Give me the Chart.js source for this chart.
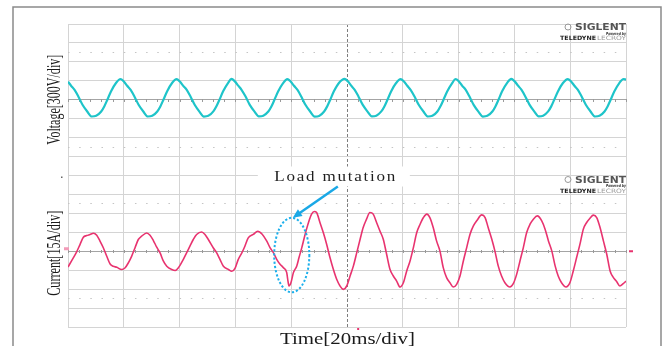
<!DOCTYPE html>
<html>
<head>
<meta charset="utf-8">
<title>Voltage and current during load mutation</title>
<script src="https://cdn.jsdelivr.net/npm/chart.js"></script>
<style>
  html, body { margin: 0; padding: 0; background: #fff; }
  #wrap { width: 663px; height: 346px; }
</style>
</head>
<body>
<div id="wrap"><canvas id="scope" width="663" height="346"></canvas></div>
<script>
// time base 20 ms/div, 10 divisions
const timeTicks = [0, 20, 40, 60, 80, 100, 120, 140, 160, 180, 200];
// 300 V/div and 15 A/div, 8 divisions each
const voltageGrid = [-1200, -900, -600, -300, 0, 300, 600, 900, 1200];
const currentGrid = [-60, -45, -30, -15, 0, 15, 30, 45, 60];
const voltageDotRows = [-750, 750];
const currentDotRows = [-37.5, 37.5];

// voltage trace (ms, V)
const voltageTime = [
  0, 1.1, 2.3, 3.7, 5.2, 6.9, 8.5, 10.1, 11.9, 13.0, 14.1, 15.4, 17.2,
  18.8, 20.0, 21.2, 22.4, 23.8, 25.3, 27.0, 28.6, 30.2, 32.0, 33.1, 34.2, 35.5, 37.3,
  38.9, 40.1, 41.3, 42.5, 43.9, 45.4, 47.1, 48.7, 50.3, 52.1, 53.2, 54.3, 55.6, 57.4,
  58.6, 59.8, 61.0, 62.2, 63.6, 65.1, 66.8, 68.4, 70.0, 71.8, 72.9, 74.0, 75.3, 77.1,
  78.6, 79.8, 81.0, 82.2, 83.6, 85.1, 86.8, 88.4, 90.0, 91.8, 92.9, 94.0, 95.3, 97.1,
  99.1, 100.3, 101.5, 102.7, 104.1, 105.6, 107.3, 108.9, 110.5, 112.3, 113.4, 114.5, 115.8, 117.6,
  119.2, 120.4, 121.6, 122.8, 124.2, 125.7, 127.4, 129.0, 130.6, 132.4, 133.5, 134.6, 135.9, 137.7,
  138.9, 140.1, 141.3, 142.5, 143.9, 145.4, 147.1, 148.7, 150.3, 152.1, 153.2, 154.3, 155.6, 157.4,
  158.9, 160.1, 161.3, 162.5, 163.9, 165.4, 167.1, 168.7, 170.3, 172.1, 173.2, 174.3, 175.6, 177.4,
  179.1, 180.3, 181.5, 182.7, 184.1, 185.6, 187.3, 188.9, 190.5, 192.3, 193.4, 194.5, 195.8, 197.6,
  199.1, 200
];
const voltageValue = [
  287, 222, 159, 52, -79, -186, -265, -254, -186, -106, 0, 132, 265,
  329, 290, 222, 159, 52, -79, -186, -265, -254, -186, -106, 0, 132, 265,
  326, 288, 220, 160, 50, -80, -188, -266, -255, -184, -104, 2, 134, 268,
  330, 291, 224, 158, 54, -77, -185, -263, -252, -187, -107, 0, 131, 264,
  328, 289, 221, 159, 51, -80, -187, -266, -256, -186, -105, 1, 133, 266,
  331, 292, 223, 161, 53, -78, -184, -264, -253, -185, -106, 0, 132, 265,
  327, 289, 222, 158, 52, -79, -186, -265, -254, -186, -104, 1, 130, 263,
  329, 290, 220, 160, 50, -81, -188, -266, -255, -187, -106, 0, 133, 267,
  330, 291, 223, 159, 53, -78, -185, -264, -253, -185, -105, 2, 132, 265,
  328, 290, 222, 160, 51, -79, -186, -265, -254, -186, -106, 0, 131, 264,
  329, 318
];

// current trace (ms, A) - load steps up around 79 ms
const currentTime = [
  0, 1.9, 3.1, 4.3, 5.5, 6.7, 7.9, 9.1, 10.3, 11.5, 12.7, 13.9, 15.1, 16.2, 17.5, 19.2,
  20.4, 21.6, 22.8, 24.0, 25.2, 26.4, 28.2, 29.4, 30.6, 31.8, 33.0, 34.2, 35.4, 37.2, 38.4,
  39.5, 41.3, 42.5, 43.7, 44.9, 46.1, 47.9, 49.1, 50.3, 52.1, 53.3, 54.5, 55.7, 57.5, 58.7,
  59.9, 61.0, 62.3, 63.4, 64.6, 66.4, 68.0, 69.6, 71.2, 72.4, 73.6, 74.8, 76.0, 77.2, 78.4,
  78.7, 79.2, 79.9, 80.8, 82.0, 82.8, 83.8, 84.7, 85.5, 86.4, 87.3, 88.3, 89.1, 90.3, 91.5,
  92.7, 93.9, 95.1, 96.3, 97.5, 98.7, 99.9, 101.1, 102.3, 103.5, 104.7, 105.8, 107.0, 108.2, 109.4,
  110.6, 111.8, 113.0, 114.2, 115.4, 116.6, 117.8, 119.0, 120.2, 121.4, 122.6, 123.8, 125.0, 126.2, 127.4,
  128.6, 129.7, 130.9, 132.1, 133.3, 134.5, 135.7, 136.9, 138.1, 139.3, 140.5, 141.7, 142.9, 144.1, 145.3,
  146.5, 148.3, 149.5, 150.6, 151.9, 153.0, 154.2, 155.4, 156.6, 158.4, 159.6, 160.8, 162.0, 163.2, 164.4,
  165.6, 166.8, 168.2, 169.8, 171.0, 172.2, 173.4, 174.6, 175.7, 176.9, 178.5, 179.9, 181.1, 182.3, 183.5,
  184.7, 185.9, 187.1, 188.3, 189.5, 190.7, 191.9, 193.1, 194.3, 195.5, 196.7, 197.8, 199.0, 200
];
const currentValue = [
  -12.5, -5.3, -0.5, 5.3, 11.1, 12.4, 13.3, 14.3, 12.7, 7.9, 2.6, -4.0, -10.1, -11.9, -12.7, -14.5,
  -13.3, -9.3, -4.0, 2.6, 9.3, 11.9, 14.5, 12.7, 8.5, 3.2, -1.3, -7.9, -11.9, -14.5, -15.3,
  -13.3, -6.6, -1.3, 4.0, 9.3, 13.3, 15.3, 13.3, 9.3, 2.6, -1.3, -6.6, -11.9, -14.5, -15.9,
  -13.3, -6.6, -1.3, 4.0, 10.6, 13.3, 15.9, 13.5, 8.2, 2.9, -1.1, -6.4, -10.3, -13.0, -16.9,
  -21.4, -27.5, -24.9, -16.9, -11.6, -5.0, 2.9, 10.9, 17.5, 24.1, 29.4, 31.5, 30.7, 22.8, 14.8,
  5.6, -5.0, -14.3, -22.2, -27.5, -30.2, -27.5, -19.6, -11.6, -1.1, 9.5, 18.8, 25.4, 30.7, 29.4,
  22.8, 16.1, 9.5, -2.4, -14.3, -19.6, -23.6, -28.3, -24.9, -15.6, -7.7, 2.9, 14.8, 21.4, 26.7,
  29.4, 26.7, 18.8, 8.2, 0.3, -13.0, -20.9, -24.9, -28.3, -26.2, -19.6, -7.7, 2.9, 13.5, 20.1,
  24.1, 28.8, 26.7, 18.8, 9.5, 0.3, -11.6, -19.6, -24.9, -28.3, -25.7, -18.3, -7.7, 2.9, 14.8,
  21.4, 25.4, 28.0, 24.1, 17.5, 8.2, 0.3, -11.6, -19.6, -24.9, -28.3, -24.9, -15.6, -5.0, 5.6,
  17.5, 22.8, 26.2, 28.6, 26.7, 18.8, 8.2, -2.4, -15.6, -20.9, -24.1, -27.5, -25.7, -23.6
];

// annotation: where the load changes (ms / A)
const mutationTime = 80.2;
const mutationCenter = -3;
const mutationHalfWidth = 6.3;
const mutationHalfHeight = 29.5;
const labelTime = 96;

const SERIF = '"Liberation Serif", "Times New Roman", serif';
const GRID = '#d4d4d4';

// draw text squeezed/stretched to a given width
function fitText(ctx, text, x, y, width) {
  const w = ctx.measureText(text).width;
  ctx.save();
  ctx.translate(x, y);
  ctx.scale(width / w, 1);
  ctx.fillText(text, 0, 0);
  ctx.restore();
}

// letter-spaced text, glyphs widened by sx
function spacedText(ctx, text, cx, y, width, sx) {
  const chars = [...text];
  const widths = chars.map(c => ctx.measureText(c).width * sx);
  const natural = widths.reduce((a, b) => a + b, 0);
  const gap = (width - natural) / (chars.length - 1);
  let x = cx - width / 2;
  chars.forEach((c, i) => {
    ctx.save();
    ctx.translate(x, y);
    ctx.scale(sx, 1);
    ctx.fillText(c, 0, 0);
    ctx.restore();
    x += widths[i] + gap;
  });
}

function verticalTitle(ctx, text, baseX, cy, length, size) {
  ctx.save();
  ctx.font = size + 'px ' + SERIF;
  const w = ctx.measureText(text).width;
  ctx.translate(baseX, cy);
  ctx.rotate(-Math.PI / 2);
  ctx.scale(length / w, 1);
  ctx.textAlign = 'center';
  ctx.textBaseline = 'alphabetic';
  ctx.fillText(text, 0, 0);
  ctx.restore();
}

function drawLogo(ctx, right, top) {
  ctx.save();
  ctx.textAlign = 'left';
  ctx.textBaseline = 'alphabetic';
  ctx.fillStyle = '#555';
  ctx.font = 'bold 8px "DejaVu Sans"';
  fitText(ctx, 'SIGLENT', right - 51, top + 6, 51);
  ctx.strokeStyle = '#999';
  ctx.lineWidth = 1;
  ctx.beginPath();
  ctx.arc(right - 58, top + 3, 3, 0, Math.PI * 2);
  ctx.stroke();
  ctx.font = 'italic bold 4px "DejaVu Sans"';
  ctx.fillStyle = '#333';
  fitText(ctx, 'Powered by', right - 20, top + 10.5, 20);
  ctx.font = 'bold 6px "DejaVu Sans"';
  ctx.fillStyle = '#222';
  fitText(ctx, 'TELEDYNE', right - 66, top + 16, 36);
  ctx.fillStyle = '#999';
  ctx.font = '6px "DejaVu Sans"';
  fitText(ctx, 'LECROY', right - 29, top + 16, 29);
  ctx.restore();
}

const scopeDecor = {
  id: 'scopeDecor',
  beforeDatasetsDraw(chart) {
    const { ctx, scales } = chart;
    const x = scales.x, yV = scales.voltage, yI = scales.current;
    ctx.save();
    // small division marks on the zero lines
    ctx.fillStyle = '#9a9a9a';
    [yV.getPixelForValue(0), yI.getPixelForValue(0)].forEach(py => {
      for (let t = 0; t <= 200; t += 4) {
        ctx.fillRect(Math.round(x.getPixelForValue(t)), Math.round(py) - 1, 1, 3);
      }
    });
    // white patch behind the label
    const cx = x.getPixelForValue(labelTime);
    const cy = yV.bottom + 1;
    ctx.fillStyle = '#fff';
    ctx.fillRect(cx - 78, cy - 10, 152, 20);
    ctx.restore();
  },
  afterDraw(chart) {
    const { ctx, chartArea: a, scales } = chart;
    const x = scales.x, yV = scales.voltage, yI = scales.current;
    ctx.save();

    // outer frame of the figure
    ctx.strokeStyle = '#8a8a8a';
    ctx.lineWidth = 1.5;
    ctx.beginPath();
    ctx.moveTo(13, 346);
    ctx.lineTo(13, 7);
    ctx.lineTo(661, 7);
    ctx.lineTo(661, 346);
    ctx.stroke();

    // axis titles
    ctx.fillStyle = '#1a1a1a';
    verticalTitle(ctx, 'Voltage[300V/div]', a.left - 8, (yV.top + yV.bottom) / 2, 90, 19);
    verticalTitle(ctx, 'Current[15A/div]', a.left - 8, (yI.top + yI.bottom) / 2 + 2, 85, 19);
    ctx.font = '17px ' + SERIF;
    ctx.textAlign = 'left';
    ctx.textBaseline = 'alphabetic';
    fitText(ctx, 'Time[20ms/div]', (a.left + a.right) / 2 - 67, a.bottom + 17, 135);

    // label
    const lx = x.getPixelForValue(labelTime);
    ctx.font = '14px ' + SERIF;
    ctx.fillStyle = '#1e1e1e';
    spacedText(ctx, 'Load mutation', lx - 1, yV.bottom + 5.5, 121, 1.22);

    // dotted ellipse around the step
    const ex = x.getPixelForValue(mutationTime);
    const ey = yI.getPixelForValue(mutationCenter);
    const rx = x.getPixelForValue(mutationTime + mutationHalfWidth) - ex;
    const ry = ey - yI.getPixelForValue(mutationCenter + mutationHalfHeight);
    ctx.strokeStyle = '#1db0ec';
    ctx.lineWidth = 2;
    ctx.setLineDash([2.2, 2]);
    ctx.beginPath();
    ctx.ellipse(ex, ey, rx, ry, 0, 0, Math.PI * 2);
    ctx.stroke();
    ctx.setLineDash([]);

    // arrow from the label to the ellipse
    const tailX = lx + 2, tailY = yV.bottom + 11;
    const tipX = ex + 1, tipY = ey - ry;
    const ang = Math.atan2(tipY - tailY, tipX - tailX);
    const head = 10;
    ctx.strokeStyle = '#1aa8e6';
    ctx.fillStyle = '#1aa8e6';
    ctx.lineWidth = 2.5;
    ctx.beginPath();
    ctx.moveTo(tailX, tailY);
    ctx.lineTo(tipX - Math.cos(ang) * head * 0.8, tipY - Math.sin(ang) * head * 0.8);
    ctx.stroke();
    ctx.beginPath();
    ctx.moveTo(tipX, tipY);
    ctx.lineTo(tipX - head * Math.cos(ang - 0.42), tipY - head * Math.sin(ang - 0.42));
    ctx.lineTo(tipX - head * Math.cos(ang + 0.42), tipY - head * Math.sin(ang + 0.42));
    ctx.closePath();
    ctx.fill();

    // scope logos
    drawLogo(ctx, a.right, yV.top);
    drawLogo(ctx, a.right, yI.top + 1);

    // channel / trigger markers
    const zeroI = yI.getPixelForValue(0);
    ctx.fillStyle = '#f29bb8';
    ctx.fillRect(a.left - 4, zeroI - 4, 5, 3);
    ctx.fillStyle = '#e8336f';
    ctx.fillRect(a.right + 3, zeroI - 1, 4, 2);
    ctx.fillRect(x.getPixelForValue(104) - 1, a.bottom + 1, 2, 2);
    ctx.fillStyle = '#666';
    ctx.fillRect(a.left - 7, yI.top + 1, 1.5, 1.5);

    ctx.restore();
  }
};

function yScale(grid, dots, min, max) {
  return {
    type: 'linear',
    position: 'left',
    stack: 'scope',
    stackWeight: 1,
    min: min,
    max: max,
    afterBuildTicks: s => { s.ticks = grid.concat(dots).map(v => ({ value: v })); },
    ticks: { display: false },
    grid: {
      drawTicks: false,
      lineWidth: 1,
      color: c => (c.tick && c.tick.value === 0) ? '#a4a4a4' : (c.tick && dots.includes(c.tick.value) ? '#c4c4c4' : GRID)
    },
    border: {
      display: false,
      dash: c => (c.tick && dots.includes(c.tick.value)) ? [1.5, 9.66] : []
    }
  };
}

const ctx = document.getElementById('scope').getContext('2d');
new Chart(ctx, {
  type: 'line',
  data: {
    datasets: [
      {
        label: 'Voltage',
        data: voltageTime.map((t, i) => ({ x: t, y: voltageValue[i] })),
        yAxisID: 'voltage',
        borderColor: '#1ec4c9',
        borderWidth: 2.2,
        pointRadius: 0,
        cubicInterpolationMode: 'monotone'
      },
      {
        label: 'Current',
        data: currentTime.map((t, i) => ({ x: t, y: currentValue[i] })),
        yAxisID: 'current',
        borderColor: '#e8336f',
        borderWidth: 1.6,
        pointRadius: 0,
        cubicInterpolationMode: 'monotone'
      }
    ]
  },
  options: {
    responsive: false,
    animation: false,
    layout: { padding: { left: 68, right: 37, top: 24, bottom: 19 } },
    plugins: {
      legend: { display: false },
      tooltip: { enabled: false }
    },
    scales: {
      x: {
        type: 'linear',
        min: 0,
        max: 200,
        afterBuildTicks: s => { s.ticks = timeTicks.map(v => ({ value: v })); },
        ticks: { display: false },
        grid: {
          drawTicks: false,
          lineWidth: 1,
          color: c => (c.tick && c.tick.value === 100) ? '#7d7d7d' : GRID
        },
        border: {
          display: false,
          dash: c => (c.tick && c.tick.value === 100) ? [3, 2] : []
        }
      },
      current: yScale(currentGrid, currentDotRows, -60, 60),
      voltage: yScale(voltageGrid, voltageDotRows, -1200, 1200)
    }
  },
  plugins: [scopeDecor]
});
</script>
</body>
</html>
